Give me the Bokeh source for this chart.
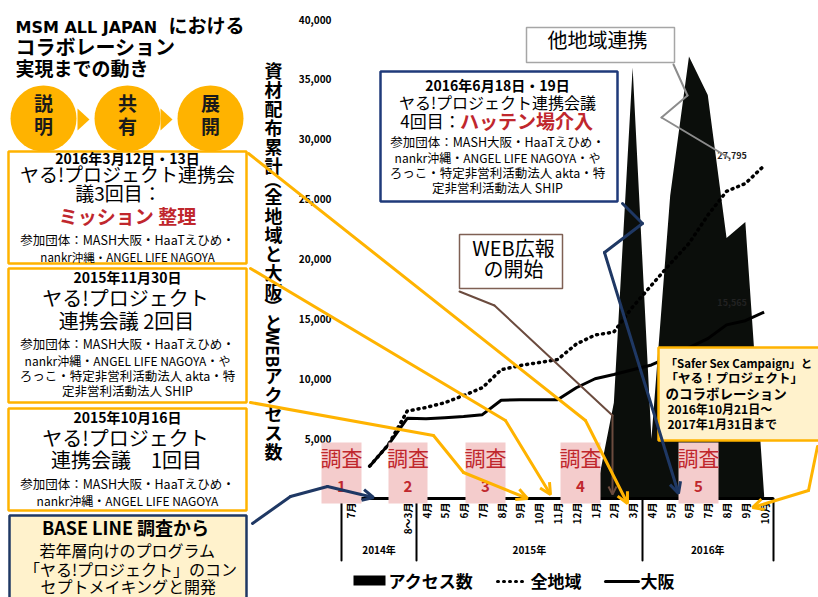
import math
from bokeh.plotting import figure
from bokeh.models import (Range1d, Label, BoxAnnotation, Arrow, OpenHead,
                          PolyAnnotation, FixedTicker, NumeralTickFormatter, ColumnDataSource)
from bokeh.core.properties import value
from bokeh.embed import file_html
from bokeh.resources import INLINE

JP = "Noto Sans CJK JP"

# ---------------- data ----------------
years = ["2014年", "2015年", "2016年"]
year_counts = [4, 12, 7]
months = ["7月", " ", "  ", "8〜3月",
          "4月", "5月", "6月", "7月", "8月", "9月", "10月", "11月", "12月", "1月", "2月", "3月",
          "4月", "5月", "6月", "7月", "8月", "9月", "10月"]
access = [0, 0, 0, 0,
          0, 0, 0, 0, 0, 0, 0, 0, 0, 0, 8000, 36000,
          5000, 25300, 36900, 33700, 21750, 23100, 300]
# cumulative material distribution (from the 2nd 2014 slot on)
all_regions = [2700, 4500, 7300,
               7600, 8000, 8600, 9250, 10750, 11100, 11350, 11600, 12900, 13650, 13900, 16000,
               17800, 19600, 21300, 23650, 25650, 26300, 27795]
osaka = [2700, 4500, 6700,
         6650, 6750, 6850, 7000, 8200, 8250, 8250, 8250, 9250, 10000, 10350, 10750,
         11150, 11850, 12600, 13350, 14500, 14850, 15565]
y_ticks = [0, 5000, 10000, 15000, 20000, 25000, 30000, 35000, 40000]
end_labels = ["27,795", "15,565"]
y_title = ["資材配布累計", "（", "全地域と大阪", "）", "と", "WEB", "アクセス数"]
legend_names = ["アクセス数", "全地域", "大阪"]

n = len(months)
xs = list(range(n))

# layout constants (pixels of the canvas)
W, H = 818, 597
PLOT_L, PLOT_R, PLOT_T, PLOT_B = 341, 773, 19, 498
CW = (PLOT_R - PLOT_L) / n               # px per month slot
PXV = (PLOT_B - PLOT_T) / 40000          # px per unit

p = figure(width=W, height=H, output_backend="svg", toolbar_location=None, title=None,
           x_range=Range1d(-0.5 - PLOT_L / CW, -0.5 + (W - PLOT_L) / CW),
           y_range=Range1d(-(H - PLOT_B) / PXV, PLOT_B / PXV),
           min_border=0, min_border_left=0, min_border_right=0,
           min_border_top=0, min_border_bottom=0)
p.background_fill_color = "white"
p.border_fill_color = "white"
p.outline_line_color = None
p.xgrid.grid_line_color = None
p.ygrid.grid_line_color = None

# axes placed inside the canvas
p.yaxis.fixed_location = -0.5
p.yaxis.bounds = (0, 40000)
p.yaxis.ticker = FixedTicker(ticks=y_ticks)
p.yaxis.formatter = NumeralTickFormatter(format="0,0")
p.yaxis.axis_line_color = None
p.yaxis.major_tick_line_color = None
p.yaxis.minor_tick_line_color = None
p.yaxis.major_tick_out = 0
p.yaxis.major_tick_in = 0
p.yaxis.major_label_standoff = 10
p.yaxis.major_label_text_font = JP
p.yaxis.major_label_text_font_size = "10px"
p.yaxis.major_label_text_font_style = "bold"
p.yaxis.major_label_text_color = "black"

p.xaxis.fixed_location = 0
p.xaxis.bounds = (-0.5, n - 0.5)
p.xaxis.ticker = FixedTicker(ticks=xs)
p.xaxis.major_label_overrides = {i: m for i, m in zip(xs, months)}
p.xaxis.axis_line_width = 3
p.xaxis.axis_line_color = "black"
p.xaxis.major_tick_line_color = None
p.xaxis.minor_tick_line_color = None
p.xaxis.major_tick_out = 0
p.xaxis.major_tick_in = 0
p.xaxis.major_label_orientation = math.pi / 2
p.xaxis.major_label_standoff = 4
p.xaxis.major_label_text_font = JP
p.xaxis.major_label_text_font_size = "10px"
p.xaxis.major_label_text_font_style = "bold"
p.xaxis.major_label_text_color = "black"

# series
src_a = ColumnDataSource(dict(x=xs, y=access))
p.varea(x="x", y1=0, y2="y", source=src_a, fill_color="#0B0E0B")
src_l = ColumnDataSource(dict(x=xs[1:], all=all_regions, osaka=osaka))
p.line(x="x", y="osaka", source=src_l, line_color="black", line_width=3)
p.line(x="x", y="all", source=src_l, line_color="black", line_width=3.5,
       line_dash="1 5", line_cap="round")
p.text(x=[xs[-1], xs[-1]], y=[all_regions[-1], osaka[-1]], text=end_labels,
       x_offset=-32, y_offset=-10, text_align="center", text_baseline="middle",
       text_font=value(JP), text_font_size="9px", text_font_style="bold", text_color="#222222")

# ---------------- annotation helpers (canvas pixel coords, y down) ----------------
def sx(x):
    return x

def sy(y):
    return H - y

def label(x, y, text, size, color="black", bold=False, align="center", font=JP, angle=0,
          x_units="screen"):
    p.add_layout(Label(x=sx(x) if x_units == "screen" else x, y=sy(y),
                       x_units=x_units, y_units="screen", text=text,
                       text_font_size=f"{size}px", text_color=color,
                       text_font_style="bold" if bold else "normal",
                       text_align=align, text_baseline="middle", text_font=font, angle=angle))

def box(x0, y0, x1, y1, fill, line, lw):
    p.add_layout(BoxAnnotation(left=sx(x0), right=sx(x1), top=sy(y0), bottom=sy(y1),
                               left_units="screen", right_units="screen",
                               top_units="screen", bottom_units="screen",
                               fill_color=fill, fill_alpha=1,
                               line_color=line, line_width=lw, line_alpha=1))

def poly(pts, color, lw, head=False, dash="solid", hsize=11):
    k = len(pts)
    for i in range(k - 1):
        (x0, y0), (x1, y1) = pts[i], pts[i + 1]
        end = OpenHead(size=hsize, line_color=color, line_width=lw) if (head and i == k - 2) else None
        p.add_layout(Arrow(x_start=sx(x0), y_start=sy(y0), x_end=sx(x1), y_end=sy(y1),
                           start_units="screen", end_units="screen", line_color=color,
                           line_width=lw, line_cap="round", line_join="round",
                           line_dash=dash, end=end))

def shape(pts, fill):
    p.add_layout(PolyAnnotation(xs=[sx(a) for a, b in pts], ys=[sy(b) for a, b in pts],
                                xs_units="screen", ys_units="screen",
                                fill_color=fill, fill_alpha=1, line_color=None))

ORANGE = "#FFB300"
RED = "#C0272D"
NAVY = "#1F3864"
PINK = "#F4CCCC"

# year group labels and separators under the axis
start = 0
for yname, cnt in zip(years, year_counts):
    label(start + cnt / 2 - 0.5, 549, yname, 10, bold=True, x_units="data")
    start += cnt
for gx in [341, 416, 642, 773]:
    poly([(gx, 498), (gx, 560)], "black", 2)

# ---------------- left panel ----------------
label(15, 27, "MSM ALL JAPAN", 16, bold=True, align="left", font="DejaVu Sans")
label(168, 24, "における", 19, bold=True, align="left")
label(15, 46, "コラボレーション", 20, bold=True, align="left")
label(15, 67, "実現までの動き", 19, bold=True, align="left")

for cx, (c1, c2) in zip([43, 127, 210], [("説", "明"), ("共", "有"), ("展", "開")]):
    circ = [(cx + 33 * math.cos(t / 40 * 2 * math.pi), 118 + 33 * math.sin(t / 40 * 2 * math.pi))
            for t in range(40)]
    shape(circ, ORANGE)
    label(cx, 102, c1, 19, color="#1A1A1A", bold=True)
    label(cx, 125, c2, 19, color="#1A1A1A", bold=True)
for tx in [77, 160]:
    shape([(tx, 108), (tx, 130), (tx + 12, 119)], ORANGE)

# box A
box(8, 151, 246, 263, "white", ORANGE, 2.5)
label(127, 157, "2016年3月12日・13日", 14, bold=True)
label(127, 173, "ヤる!プロジェクト連携会", 19)
label(118, 192, "議3回目：", 19)
label(127, 215, "ミッション 整理", 19, color=RED, bold=True)
label(127, 239, "参加団体：MASH大阪・HaaTえひめ・", 12.5)
label(127, 256, "nankr沖縄・ANGEL LIFE NAGOYA", 11.5)

# box B
box(8, 268, 246, 402, "white", ORANGE, 2.5)
label(127, 276, "2015年11月30日", 14, bold=True)
label(125, 297, "ヤる!プロジェクト", 20)
label(126, 320, "連携会議 2回目", 20)
label(127, 343, "参加団体：MASH大阪・HaaTえひめ・", 12.5)
label(127, 360, "nankr沖縄・ANGEL LIFE NAGOYA・や", 12)
label(127, 375, "ろっこ・特定非営利活動法人 akta・特", 12.5)
label(127, 390, "定非営利活動法人 SHIP", 12.5)

# box C
box(8, 408, 246, 510, "white", ORANGE, 2.5)
label(127, 416, "2015年10月16日", 14, bold=True)
label(125, 437, "ヤる!プロジェクト", 20)
label(126, 459, "連携会議　1回目", 20)
label(127, 483, "参加団体：MASH大阪・HaaTえひめ・", 12.5)
label(127, 500, "nankr沖縄・ANGEL LIFE NAGOYA", 12)

# box D
box(9, 515, 246, 610, "#FFF2CC", NAVY, 2.5)
label(125, 526, "BASE LINE 調査から", 18, bold=True)
label(127, 549, "若年層向けのプログラム", 16)
label(130, 568, "「ヤる!プロジェクト」のコン", 16)
label(128, 585, "セプトメイキングと開発", 16)

# vertical axis title (stacked characters)
yy = 60
for part in y_title:
    if part == "WEB":
        label(273, yy + 17, part, 17, bold=True, angle=-math.pi / 2)
        yy += 34
    elif part in "（）":
        label(273, yy + 6, part, 17, bold=True, angle=-math.pi / 2)
        yy += 12
    else:
        for ch in part:
            label(273, yy + 9.5, ch, 18, bold=True)
            yy += 19

# ---------------- chart callouts ----------------
box(526, 27, 674, 62, "white", "#A6A6A6", 1.5)
label(597, 39, "他地域連携", 20)
poly([(673, 64), (687, 95), (661, 117), (728, 157)], "#8C8C8C", 2)

box(380, 71, 617, 201, "white", "#1F3A7A", 2.5)
label(497, 84, "2016年6月18日・19日", 14, bold=True)
label(497, 101, "ヤる!プロジェクト連携会議", 16)
label(430, 120, "4回目：", 17)
label(526, 120, "ハッテン場介入", 19, color=RED, bold=True)
label(497, 141, "参加団体：MASH大阪・HaaTえひめ・", 12.5)
label(497, 157, "nankr沖縄・ANGEL LIFE NAGOYA・や", 12)
label(497, 172, "ろっこ・特定非営利活動法人 akta・特", 12.5)
label(497, 187, "定非営利活動法人 SHIP", 12.5)

box(459, 234, 562, 288, "white", "#7F6054", 1.5)
label(513, 247, "WEB広報", 20)
label(513, 268, "の開始", 20)
poly([(459, 291), (494, 305), (612, 415), (612, 494)], "#6B4B3E", 2, head=True, hsize=8)

box(658, 347, 830, 440, "#FFF2CC", ORANGE, 2.5)
label(665, 362, "「Safer Sex Campaign」と", 11.5, bold=True, align="left")
label(665, 377, "「ヤる！プロジェクト」", 12.5, bold=True, align="left")
label(665, 392, "のコラボレーション", 13.5, bold=True, align="left")
label(667, 408, "2016年10月21日～", 12, bold=True, align="left")
label(667, 423, "2017年1月31日まで", 12, bold=True, align="left")

for i, (x0, x1) in enumerate([(321, 361), (388, 427), (465, 505), (560, 600), (678, 718)]):
    box(x0, 442, x1, 503, PINK, None, 0)
    label((x0 + x1) / 2, 456, "調査", 21, color=RED)
    label((x0 + x1) / 2, 486, str(i + 1), 15, color=RED, bold=True)

poly([(248, 153), (585, 420), (627, 503)], ORANGE, 3, head=True)
poly([(250, 268), (505, 420), (550, 494)], ORANGE, 3, head=True)
poly([(250, 402), (433, 435), (463, 472), (527, 498)], ORANGE, 3, head=True)
poly([(817, 446), (808, 490), (752, 507)], ORANGE, 3, head=True)
poly([(252, 523), (290, 496), (327, 486), (373, 497)], NAVY, 3, head=True)
poly([(622, 203), (642, 223), (604, 252), (678, 493)], NAVY, 3, head=True)

# legend
box(353, 575, 385, 585, "black", None, 0)
label(388, 580, legend_names[0], 17, bold=True, align="left")
poly([(497, 581), (527, 581)], "black", 3, dash="1 5")
label(530, 580, legend_names[1], 17, bold=True, align="left")
poly([(605, 581), (638, 581)], "black", 3)
label(640, 580, legend_names[2], 17, bold=True, align="left")

open("out.html", "w").write(file_html(p, INLINE))
